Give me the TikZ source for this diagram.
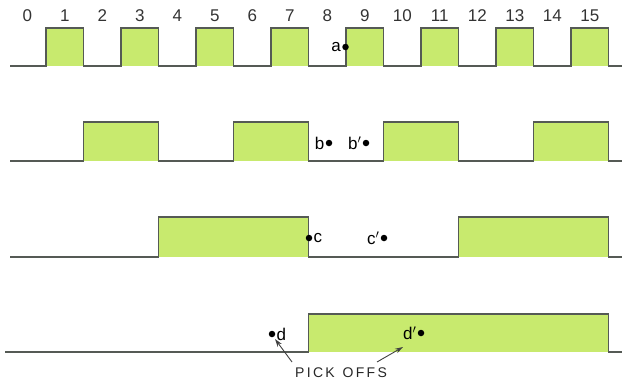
\documentclass[tikz,border=0pt]{standalone}
\usepackage{fontspec}
\setmainfont{Liberation Sans}
\usetikzlibrary{arrows.meta}
\definecolor{pulsegreen}{RGB}{200,234,110}
\definecolor{wireline}{RGB}{85,90,85}
\tikzset{
  wave/.style={draw=wireline, line width=1.1pt, line join=miter},
  pulsefill/.style={fill=pulsegreen, draw=none},
  dotmark/.style={circle, fill=black, inner sep=0pt, minimum size=6.5pt},
  lbl/.style={font=\fontsize{17}{17}\selectfont, inner sep=1pt},
  num/.style={font=\fontsize{17}{17}\selectfont, inner sep=0pt, text=black!80},
  pointer/.style={draw=black!75, line width=0.9pt, -{Stealth[length=8pt,width=5pt]}}
}
\begin{document}
\begin{tikzpicture}[x=1pt,y=-1pt]
\useasboundingbox (0,0) rectangle (622,383);
% numbers
\foreach \k in {0,...,15} {
  \node[num] (n\k) at ({27.25+37.5*\k},16) {\k};
}
% row 1 fills
\foreach \k in {1,3,...,15} {
  \fill[pulsefill] ({8.5+37.5*\k},28) rectangle ({8.5+37.5*(\k+1)},66);
}
\draw[wave] (10,66) \foreach \k in {1,3,...,15} { -- ({8.5+37.5*\k},66) -- ({8.5+37.5*\k},28) -- ({8.5+37.5*(\k+1)},28) -- ({8.5+37.5*(\k+1)},66) } -- (622,66);
% row 2
\foreach \k in {2,6,10,14} {
  \fill[pulsefill] ({8.5+37.5*\k},122) rectangle ({8.5+37.5*(\k+2)},161);
}
\draw[wave] (10,161) \foreach \k in {2,6,10,14} { -- ({8.5+37.5*\k},161) -- ({8.5+37.5*\k},122) -- ({8.5+37.5*(\k+2)},122) -- ({8.5+37.5*(\k+2)},161) } -- (622,161);
% row 3
\foreach \k in {4,12} {
  \fill[pulsefill] ({8.5+37.5*\k},217) rectangle ({8.5+37.5*(\k+4)},257);
}
\draw[wave] (10,257) \foreach \k in {4,12} { -- ({8.5+37.5*\k},257) -- ({8.5+37.5*\k},217) -- ({8.5+37.5*(\k+4)},217) -- ({8.5+37.5*(\k+4)},257) } -- (622,257);
% row 4
\fill[pulsefill] (308.5,314) rectangle (608.5,352);
\draw[wave] (5,352) -- (308.5,352) -- (308.5,314) -- (608.5,314) -- (608.5,352) -- (622,352);
% pick-off points
\node[dotmark] (a) at (345.5,47) {};
\node[lbl, anchor=east] (alab) at (a.west) {a};
\node[dotmark] (b) at (329,143) {};
\node[lbl, anchor=east] (blab) at (b.west) {b};
\node[dotmark] (bp) at (366,143) {};
\node[lbl, anchor=east] (bplab) at (bp.west) {b$'$};
\node[dotmark] (c) at (309,238) {};
\node[lbl, anchor=west] (clab) at (c.east) {c};
\node[dotmark] (cp) at (384,238) {};
\node[lbl, anchor=east] (cplab) at (cp.west) {c$'$};
\node[dotmark] (d) at (272,334) {};
\node[lbl, anchor=west] (dlab) at (d.east) {d};
\node[dotmark] (dp) at (421,333) {};
\node[lbl, anchor=east] (dplab) at (dp.west) {d$'$};
% label
\node[font=\fontsize{14}{14}\selectfont, text=black!85] (pick) at (341,373) {P\,I\,C\,K\ \ O\,F\,F\,S};
\coordinate (pl) at (292,362);
\coordinate (pr) at (377,362);
\draw[pointer] (pl) -- ([shift={(3,5)}]d.center);
\draw[pointer] (pr) -- (403,347);
\end{tikzpicture}
\end{document}
